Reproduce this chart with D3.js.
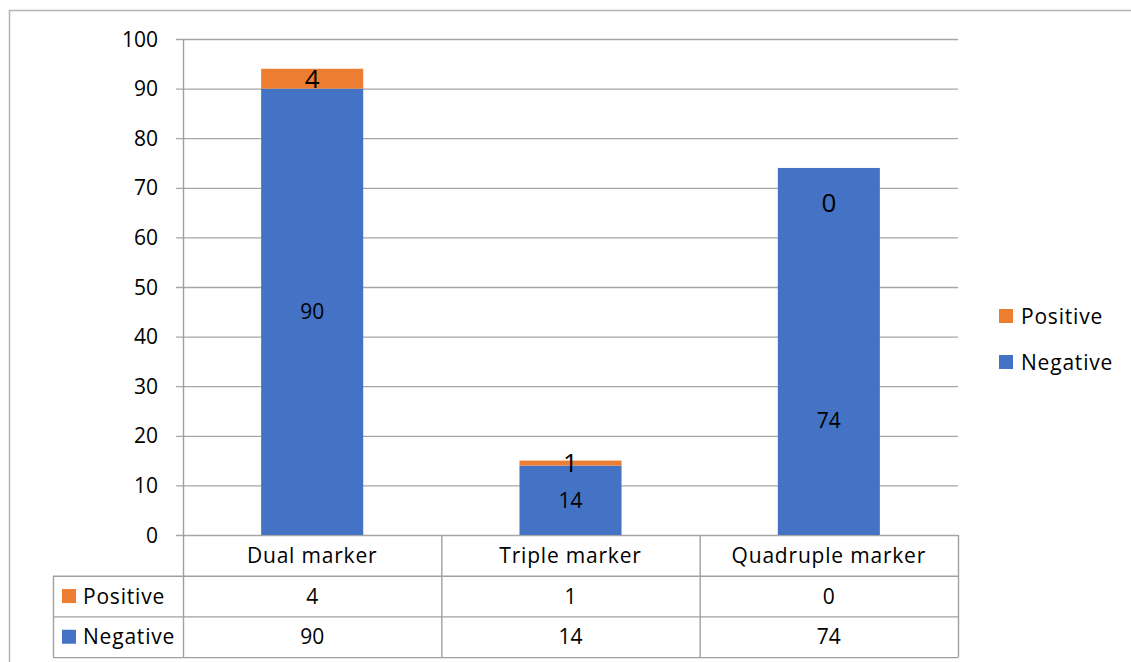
<!DOCTYPE html>
<html>
<head>
<meta charset="utf-8">
<script src="https://cdn.jsdelivr.net/npm/d3@7"></script>
<style>
  html, body { margin: 0; padding: 0; background: #fff; }
  svg { display: block; }
  text { font-family: "Open Sans", Lato, "Liberation Sans", sans-serif; fill: #000; }
  .word { letter-spacing: 0.8px; }
</style>
</head>
<body>
<svg id="chart" width="1131" height="662"></svg>
<script>
// Chart values
const categories = ["Dual marker", "Triple marker", "Quadruple marker"];
const positive = [4, 1, 0];
const negative = [90, 14, 74];
const seriesNames = ["Positive", "Negative"];
const yTicks = [0, 10, 20, 30, 40, 50, 60, 70, 80, 90, 100];

const colors = { Positive: "#ED7D31", Negative: "#4472C4" };
const gridColor = "#a6a6a6";

const svg = d3.select("#chart");

// Outer frame
svg.append("rect")
  .attr("x", 9.5).attr("y", 10.5)
  .attr("width", 1140).attr("height", 660)
  .attr("fill", "none").attr("stroke", "#b4b4b4").attr("stroke-width", 1.5);

const plot = { left: 183, right: 958, top: 39, bottom: 535 };

const x = d3.scaleBand().domain(categories).range([plot.left, plot.right]).paddingInner(0).paddingOuter(0);
const y = d3.scaleLinear().domain([0, 100]).range([plot.bottom, plot.top]);

// Gridlines with tick stubs
const grid = svg.append("g");
grid.selectAll("line").data(yTicks).join("line")
  .attr("x1", plot.left - 7).attr("x2", plot.right)
  .attr("y1", d => y(d) + 0.5).attr("y2", d => y(d) + 0.5)
  .attr("stroke", gridColor).attr("stroke-width", 1.3);

// Y axis labels
svg.append("g").selectAll("text").data(yTicks).join("text")
  .attr("x", 158).attr("y", d => y(d))
  .attr("dy", "0.36em")
  .attr("text-anchor", "end")
  .style("font-size", "21px")
  .text(d => d);

// Stacked bars
const rows = categories.map((c, i) => ({ cat: c, Negative: negative[i], Positive: positive[i] }));
const stack = d3.stack().keys(["Negative", "Positive"])(rows);
const barW = x.bandwidth() * 0.395;

const bars = svg.append("g");
stack.forEach(layer => {
  bars.append("g").attr("fill", colors[layer.key])
    .selectAll("rect").data(layer).join("rect")
    .attr("x", d => x(d.data.cat) + (x.bandwidth() - barW) / 2)
    .attr("width", barW)
    .attr("y", d => y(d[1]))
    .attr("height", d => y(d[0]) - y(d[1]));
});

// Value labels (manual label shifts as laid out in the source workbook)
const negShift = [0, 0, 69];
const posShift = [0, 0, 35];
const labels = svg.append("g").attr("text-anchor", "middle");
stack[0].forEach((d, i) => {
  labels.append("text")
    .attr("x", x(d.data.cat) + x.bandwidth() / 2)
    .attr("y", y((d[0] + d[1]) / 2) + negShift[i])
    .attr("dy", "0.36em")
    .style("font-size", "21px")
    .text(negative[i]);
});
stack[1].forEach((d, i) => {
  labels.append("text")
    .attr("x", x(d.data.cat) + x.bandwidth() / 2)
    .attr("y", y((d[0] + d[1]) / 2) + posShift[i])
    .attr("dy", "0.36em")
    .style("font-size", "26px")
    .text(positive[i]);
});

// Y axis line, continuing as the table's left divider
const tbl = { left: 53, rowH: 40.7 };
const tableBottom = plot.bottom + tbl.rowH * 3;
const tableStroke = "#a0a0a0";
const table = svg.append("g").attr("stroke", tableStroke).attr("stroke-width", 1.4);

table.append("line")
  .attr("x1", plot.left + 0.5).attr("x2", plot.left + 0.5)
  .attr("y1", plot.top).attr("y2", tableBottom);

// Data table: column dividers
const colEdges = categories.map(c => x(c)).slice(1).concat([plot.right]);
table.selectAll("line.col").data(colEdges).join("line").attr("class", "col")
  .attr("x1", d => d + 0.5).attr("x2", d => d + 0.5)
  .attr("y1", plot.bottom).attr("y2", tableBottom);

// Row dividers
[1, 2, 3].forEach(r => {
  table.append("line")
    .attr("x1", tbl.left).attr("x2", plot.right + 0.5)
    .attr("y1", plot.bottom + tbl.rowH * r + 0.5).attr("y2", plot.bottom + tbl.rowH * r + 0.5);
});
table.append("line")
  .attr("x1", tbl.left + 0.5).attr("x2", tbl.left + 0.5)
  .attr("y1", plot.bottom + tbl.rowH).attr("y2", tableBottom);

// Category header row
svg.append("g").attr("text-anchor", "middle").selectAll("text").data(categories).join("text")
  .attr("class", "word")
  .attr("x", d => x(d) + x.bandwidth() / 2)
  .attr("y", plot.bottom + tbl.rowH / 2)
  .attr("dy", "0.36em")
  .style("font-size", "21px")
  .text(d => d);

// Series rows
const seriesValues = { Positive: positive, Negative: negative };
seriesNames.forEach((name, r) => {
  const cy = plot.bottom + tbl.rowH * (r + 1) + tbl.rowH / 2;
  svg.append("rect")
    .attr("x", 62).attr("y", cy - 7).attr("width", 14).attr("height", 14)
    .attr("fill", colors[name]);
  svg.append("text").attr("class", "word")
    .attr("x", 83).attr("y", cy).attr("dy", "0.36em")
    .style("font-size", "21px").text(name);
  svg.append("g").attr("text-anchor", "middle").selectAll("text")
    .data(seriesValues[name]).join("text")
    .attr("x", (d, i) => x(categories[i]) + x.bandwidth() / 2)
    .attr("y", cy).attr("dy", "0.36em")
    .style("font-size", "21px")
    .text(d => d);
});

// Legend
const legend = svg.append("g");
seriesNames.forEach((name, i) => {
  const cy = 316 + i * 46;
  legend.append("rect")
    .attr("x", 999).attr("y", cy - 7).attr("width", 14).attr("height", 14)
    .attr("fill", colors[name]);
  legend.append("text").attr("class", "word")
    .attr("x", 1021).attr("y", cy).attr("dy", "0.36em")
    .style("font-size", "21px").text(name);
});
</script>
</body>
</html>
